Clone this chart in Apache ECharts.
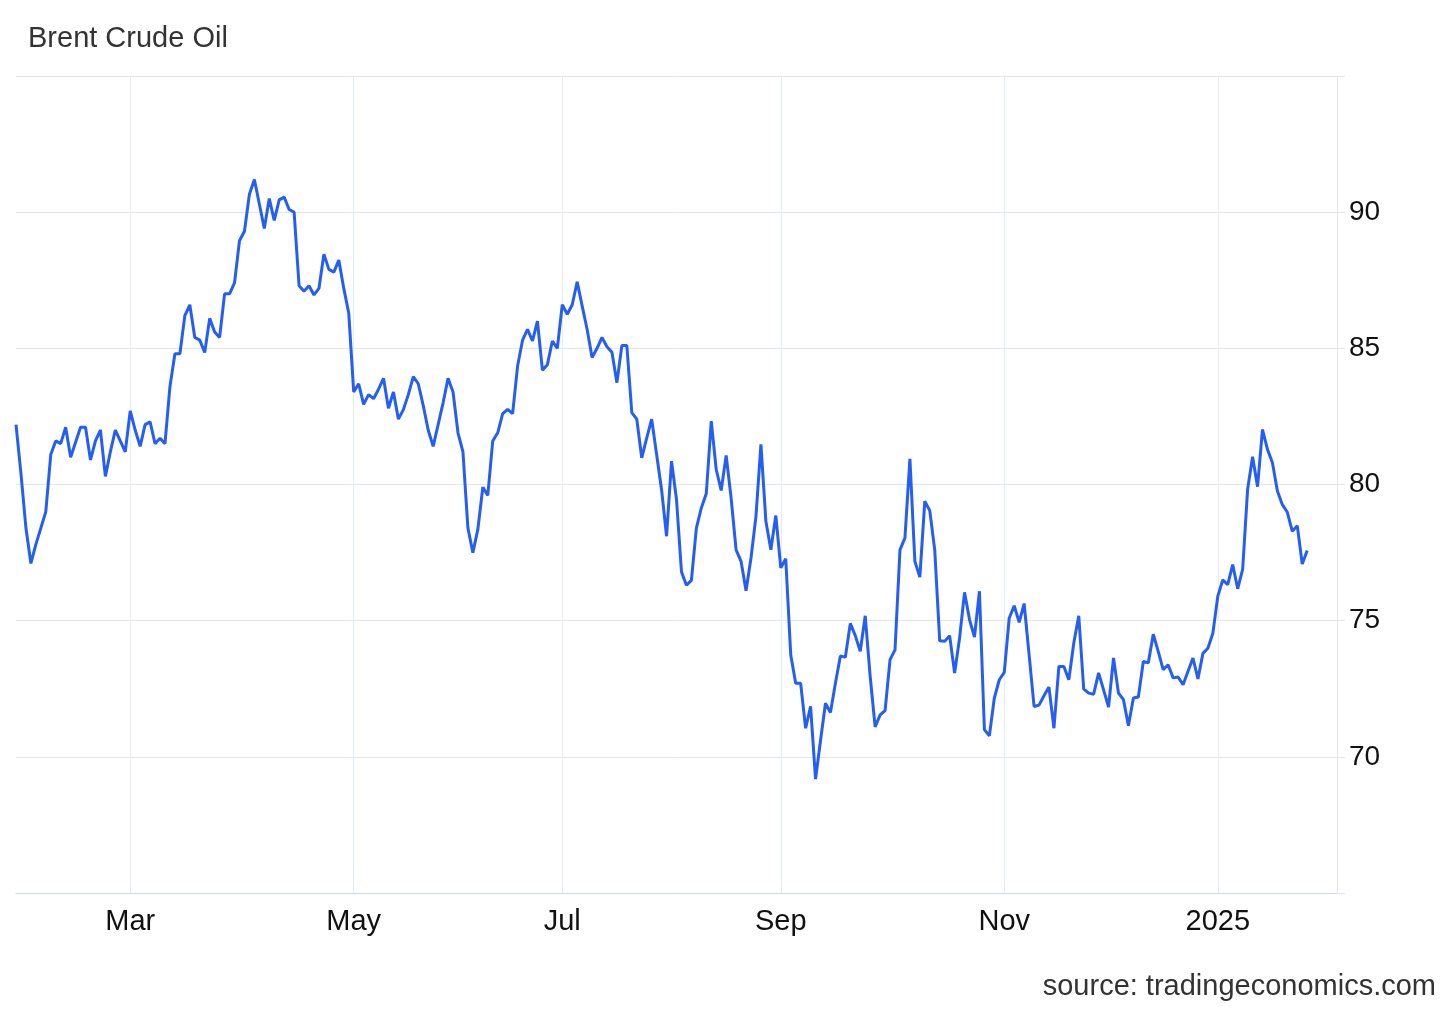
<!DOCTYPE html>
<html>
<head>
<meta charset="utf-8">
<script src="https://cdn.jsdelivr.net/npm/echarts@6/dist/echarts.min.js"></script>
<style>
html,body{margin:0;padding:0;background:#fff;}
#chart{width:1456px;height:1009px;}
</style>
</head>
<body>
<div id="chart"></div>
<script>
// Brent crude oil daily values (USD/bbl)
const values = [
82.2,80.4,78.4,77.1,77.8,78.4,79.0,81.1,81.6,81.5,
82.1,81.0,81.55,82.1,82.1,80.9,81.6,82.0,80.3,81.2,
82.0,81.6,81.2,82.7,82.0,81.4,82.2,82.3,81.5,81.7,
81.5,83.6,84.8,84.8,86.2,86.6,85.4,85.3,84.85,86.1,
85.6,85.4,87.0,87.0,87.4,88.95,89.3,90.66,91.2,90.3,
89.4,90.5,89.7,90.45,90.55,90.1,90.0,87.3,87.1,87.3,
86.96,87.2,88.46,87.9,87.8,88.24,87.2,86.3,83.4,83.7,
82.94,83.3,83.15,83.5,83.9,82.8,83.4,82.4,82.75,83.3,
83.96,83.7,82.9,82.0,81.4,82.2,83.0,83.9,83.4,81.9,
81.2,78.4,77.5,78.35,79.9,79.6,81.6,81.9,82.6,82.76,
82.6,84.35,85.3,85.7,85.27,86.0,84.2,84.4,85.27,85.0,
86.6,86.25,86.6,87.44,86.56,85.7,84.66,85.0,85.4,85.06,
84.86,83.74,85.1,85.1,82.64,82.4,80.98,81.7,82.4,81.1,
79.8,78.1,80.86,79.45,76.8,76.3,76.48,78.4,79.14,79.67,
82.33,80.55,79.78,81.07,79.5,77.6,77.18,76.1,77.3,78.83,
81.47,78.65,77.6,78.86,76.94,77.27,73.75,72.7,72.7,71.05,
71.85,69.18,70.6,71.97,71.63,72.7,73.7,73.66,74.9,74.45,
73.88,75.18,72.95,71.1,71.54,71.7,73.57,73.93,77.6,78.04,
80.94,77.18,76.6,79.39,79.04,77.6,74.26,74.24,74.45,73.08,
74.36,76.04,75.04,74.4,76.08,71.0,70.77,72.16,72.83,73.1,
75.1,75.55,74.94,75.63,73.75,71.85,71.9,72.24,72.56,71.05,
73.32,73.32,72.83,74.18,75.18,72.49,72.34,72.3,73.08,72.46,
71.83,73.63,72.34,72.1,71.14,72.16,72.2,73.5,73.45,74.5,
73.87,73.2,73.38,72.9,72.93,72.65,73.14,73.63,72.86,73.8,
73.99,74.54,75.9,76.5,76.32,77.06,76.17,76.88,79.82,81.02,
79.92,82.02,81.29,80.8,79.76,79.26,78.98,78.28,78.49,77.08,
77.58
];

// x tick labels and the data point (category) where each month starts
const xTickLabels = ['Mar', 'May', 'Jul', 'Sep', 'Nov', '2025'];
const xTickIndex  = [23, 68, 110, 154, 199, 242];

// y axis
const yMin = 65, yMax = 95, yStep = 5;
const yTickLabels = [70, 75, 80, 85, 90];

// categories: trading days starting 2024-01-30 (a few empty slots after the last value)
const totalSlots = 267;
const categories = [];
(function () {
  const d = new Date(Date.UTC(2024, 0, 30));
  while (categories.length < totalSlots) {
    const wd = d.getUTCDay();
    if (wd !== 0 && wd !== 6) categories.push(d.toISOString().slice(0, 10));
    d.setUTCDate(d.getUTCDate() + 1);
  }
})();

const tickMap = {};
xTickIndex.forEach((idx, k) => { tickMap[idx] = xTickLabels[k]; });

const FONT = "'Liberation Sans', Arial, Helvetica, sans-serif";

const chart = echarts.init(document.getElementById('chart'), null, {renderer: 'canvas'});
chart.setOption({
  animation: false,
  backgroundColor: '#ffffff',
  title: [
    {
      text: 'Brent Crude Oil',
      left: 23, top: 19,
      textStyle: {fontFamily: FONT, fontSize: 29, fontWeight: 'normal', color: '#333333'}
    },
    {
      text: 'source: tradingeconomics.com',
      right: 15, bottom: 3,
      textStyle: {fontFamily: FONT, fontSize: 29, fontWeight: 'normal', color: '#333333'}
    }
  ],
  grid: {left: 16, right: 119, top: 76, bottom: 116, containLabel: false},
  xAxis: {
    type: 'category',
    data: categories,
    boundaryGap: false,
    axisLine: {show: true, lineStyle: {color: '#ccd6eb', width: 1}},
    axisTick: {show: false},
    axisLabel: {
      interval: (index) => tickMap.hasOwnProperty(index),
      formatter: (value, index) => tickMap[index] || '',
      margin: 14,
      fontFamily: FONT, fontSize: 29, color: '#111111'
    },
    splitLine: {
      show: true,
      interval: (index) => tickMap.hasOwnProperty(index),
      lineStyle: {color: '#e4ecf5', width: 1}
    }
  },
  yAxis: {
    type: 'value',
    position: 'right',
    min: yMin, max: yMax, interval: yStep,
    axisLine: {show: true, lineStyle: {color: '#e6e6e6', width: 1}},
    axisTick: {show: true, length: 8, lineStyle: {color: '#e6e6e6'}},
    axisLabel: {
      margin: 12,
      formatter: (v) => yTickLabels.indexOf(v) >= 0 ? String(v) : '',
      fontFamily: FONT, fontSize: 28, color: '#111111'
    },
    splitLine: {show: true, lineStyle: {color: '#e6e6e6', width: 1}}
  },
  series: [{
    type: 'line',
    data: values,
    showSymbol: false,
    smooth: false,
    lineStyle: {color: '#245ef2', width: 3},
    itemStyle: {color: '#245ef2'}
  }]
});
</script>
</body>
</html>
